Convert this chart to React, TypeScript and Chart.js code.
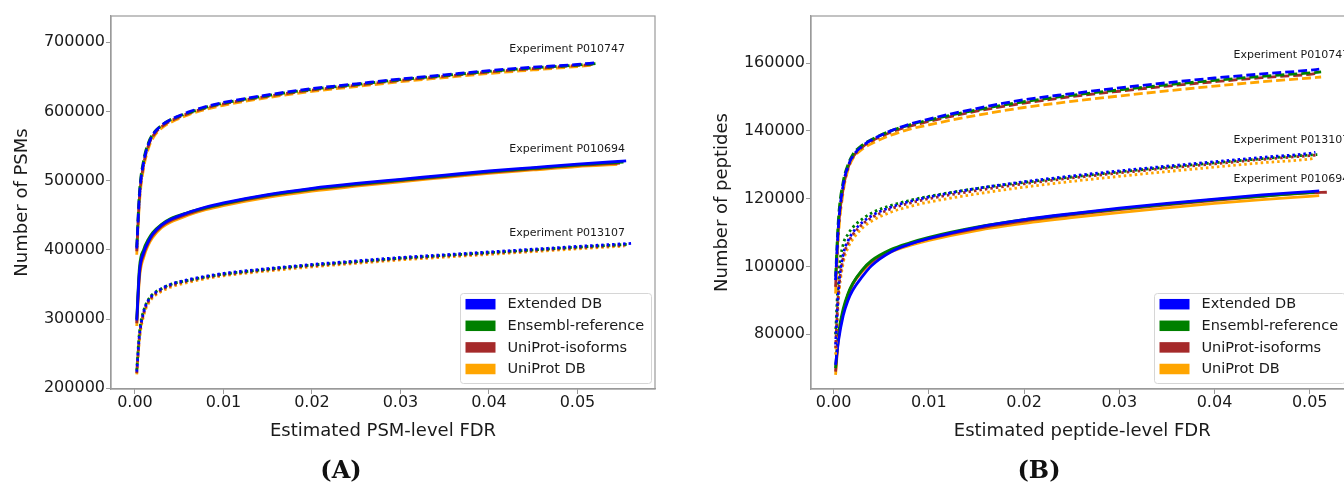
import React, { useEffect, useRef } from 'react';
import { Chart, registerables } from 'chart.js';

Chart.register(...registerables);

const FONT = "'DejaVu Sans', 'Noto Sans', sans-serif";

// ---------- shared ----------
const dbNames = ['Extended DB', 'Ensembl-reference', 'UniProt-isoforms', 'UniProt DB'];
const dbColors = ['#0000ff', '#008000', '#a52a2a', '#ffa500'];
const xTicks = [0, 0.01, 0.02, 0.03, 0.04, 0.05];
const fdrGrid = [0.0002, 0.0005, 0.001, 0.0015, 0.002, 0.003, 0.004, 0.006, 0.008, 0.01, 0.015, 0.02, 0.025, 0.03, 0.035, 0.04, 0.045, 0.05];

// ---------- Panel A: PSMs ----------
const yTicksA = [200000, 300000, 400000, 500000, 600000, 700000];

const a747Blue = [402000, 478000, 528000, 552000, 566000, 580000, 588000, 599000, 607000, 613000, 624000, 633000, 640000, 647000, 653000, 659000, 664000, 668000];
const a747Green = [404000, 482000, 531000, 554000, 567000, 580000, 588000, 598000, 606000, 612000, 623000, 632000, 639000, 646000, 652000, 658000, 663000, 667000];
const a747Brown = [398000, 474000, 525000, 550000, 564000, 578000, 586000, 597000, 605000, 611000, 622000, 631000, 638000, 645000, 651000, 657000, 662000, 666500];
const a747Orange = [393000, 468000, 520000, 546000, 561000, 576000, 584000, 595000, 603000, 609000, 620000, 629000, 636000, 643000, 649000, 655000, 660000, 665000];
const a747EndFdr = [0.052, 0.0522, 0.0517, 0.0515];
const a747EndVal = [670500, 669500, 668000, 666500];

const a694Blue = [298000, 368000, 397000, 412000, 423000, 436000, 444000, 454000, 462000, 468000, 480000, 489000, 496000, 502000, 508000, 514000, 519000, 524000];
const a694Green = [300000, 374000, 401000, 415000, 425000, 437000, 445000, 454000, 461000, 467000, 479000, 488000, 495000, 501000, 507000, 513000, 518000, 523000];
const a694Brown = [294000, 364000, 394000, 410000, 421000, 434000, 442000, 452000, 460000, 466000, 478000, 487000, 494000, 500000, 506000, 512000, 517000, 522000];
const a694Orange = [290000, 358000, 390000, 407000, 418000, 432000, 440000, 450000, 458000, 464000, 476000, 485000, 492000, 498500, 504500, 510500, 515500, 520500];
const a694EndFdr = [0.0555, 0.0552, 0.0548, 0.0545];
const a694EndVal = [528500, 527000, 525500, 523500];

const a107Blue = [224000, 276000, 311000, 327000, 335000, 344000, 350000, 357000, 362000, 366000, 373000, 379000, 384000, 389000, 393000, 397000, 401000, 405000];
const a107Green = [226000, 280000, 313000, 328000, 336000, 344000, 350000, 356000, 361000, 365000, 372000, 378000, 383000, 388000, 392000, 396000, 400000, 404000];
const a107Brown = [222000, 274000, 309000, 325000, 333000, 342000, 348000, 355000, 360000, 364000, 371000, 377000, 382000, 387000, 391000, 395000, 399000, 403000];
const a107Orange = [220000, 270000, 306000, 322000, 331000, 340000, 346000, 353000, 358500, 362500, 369500, 375500, 380500, 385500, 389500, 393500, 397500, 401500];
const a107EndFdr = [0.0562, 0.0557, 0.0555, 0.0553];
const a107EndVal = [409500, 408000, 407000, 405500];

const annotTextA = ['Experiment P010747', 'Experiment P010694', 'Experiment P013107'];
const annotFdrA = [0.0423, 0.0423, 0.0423];
const annotValA = [690300, 545800, 424400];

// ---------- Panel B: peptides ----------
const yTicksB = [80000, 100000, 120000, 140000, 160000];

const b747Blue = [96000, 112000, 124000, 129500, 132500, 135500, 137400, 140000, 142000, 143500, 146600, 149200, 151000, 152700, 154200, 155600, 156800, 157900];
const b747Green = [97000, 114000, 125000, 130000, 133000, 135800, 137500, 140000, 141800, 143200, 146200, 148600, 150500, 152100, 153600, 154900, 156100, 157100];
const b747Brown = [94000, 111000, 123000, 129000, 132200, 135200, 137000, 139600, 141400, 142800, 145800, 148200, 150100, 151700, 153200, 154500, 155700, 156700];
const b747Orange = [92000, 109000, 122000, 128500, 131800, 134600, 136300, 138700, 140500, 141800, 144600, 146900, 148700, 150300, 151800, 153200, 154500, 155600];
const b747EndFdr = [0.051, 0.0512, 0.0508, 0.0512];
const b747EndVal = [158200, 157400, 157000, 155900];

const b107Blue = [77000, 93000, 103500, 107500, 110000, 113000, 115000, 117500, 119200, 120500, 123000, 125000, 126700, 128200, 129600, 130900, 132200, 133400];
const b107Green = [80000, 97000, 106500, 109500, 111500, 114000, 115800, 118000, 119500, 120700, 123000, 124800, 126400, 127900, 129300, 130600, 131800, 132900];
const b107Brown = [76000, 92000, 102500, 106800, 109300, 112400, 114400, 117000, 118700, 120000, 122400, 124400, 126100, 127600, 129000, 130300, 131600, 132700];
const b107Orange = [74000, 90000, 101000, 105500, 108000, 111300, 113400, 116000, 117700, 119000, 121400, 123400, 125100, 126600, 128000, 129300, 130600, 131700];
const b107EndFdr = [0.0506, 0.0508, 0.0508, 0.0504];
const b107EndVal = [133700, 133000, 132900, 131900];

const b694Blue = [71000, 78000, 85500, 90000, 93000, 97000, 100300, 104300, 106600, 108300, 111500, 113800, 115600, 117200, 118600, 119900, 121100, 122100];
const b694Green = [70000, 80000, 87500, 92000, 95000, 99000, 101800, 105000, 107000, 108600, 111600, 113800, 115500, 117000, 118400, 119700, 120800, 121800];
const b694Brown = [69000, 79000, 86500, 91500, 94800, 98800, 101500, 104700, 106700, 108200, 111200, 113400, 115200, 116800, 118200, 119500, 120700, 121700];
const b694Orange = [68000, 78500, 86500, 91500, 94800, 98500, 101200, 104300, 106200, 107700, 110600, 112700, 114400, 115900, 117300, 118600, 119700, 120700];
const b694EndFdr = [0.051, 0.0505, 0.0518, 0.051];
const b694EndVal = [122300, 121900, 121900, 120900];

const annotTextB = ['Experiment P010747', 'Experiment P013107', 'Experiment P010694'];
const annotFdrB = [0.042, 0.042, 0.042];
const annotValB = [162240, 137375, 125870];

const DASHED = [9, 4];
const DOTTED = [2.5, 3];
const SOLID: number[] = [];

type Exp = { dash: number[]; values: number[][]; endFdr: number[]; endVal: number[] };

type Panel = {
  experiments: Exp[];
  yTicks: number[];
  xMin: number; xMax: number; yMin: number; yMax: number;
  xTitle: string; yTitle: string;
  yAxisWidth: number; padRight: number; yTitlePad: number;
  legendRight: number;
  annotText: string[]; annotFdr: number[]; annotVal: number[];
};

const panelA: Panel = {
  experiments: [
    { dash: DASHED, values: [a747Blue, a747Green, a747Brown, a747Orange], endFdr: a747EndFdr, endVal: a747EndVal },
    { dash: SOLID, values: [a694Blue, a694Green, a694Brown, a694Orange], endFdr: a694EndFdr, endVal: a694EndVal },
    { dash: DOTTED, values: [a107Blue, a107Green, a107Brown, a107Orange], endFdr: a107EndFdr, endVal: a107EndVal },
  ],
  yTicks: yTicksA,
  xMin: -0.00271, xMax: 0.05876, yMin: 198990, yMax: 737990,
  xTitle: 'Estimated PSM-level FDR', yTitle: 'Number of PSMs',
  yAxisWidth: 111, padRight: 25, yTitlePad: 11.2, legendRight: 4,
  annotText: annotTextA, annotFdr: annotFdrA, annotVal: annotValA,
};

const panelB: Panel = {
  experiments: [
    { dash: DASHED, values: [b747Blue, b747Green, b747Brown, b747Orange], endFdr: b747EndFdr, endVal: b747EndVal },
    { dash: DOTTED, values: [b107Blue, b107Green, b107Brown, b107Orange], endFdr: b107EndFdr, endVal: b107EndVal },
    { dash: SOLID, values: [b694Blue, b694Green, b694Brown, b694Orange], endFdr: b694EndFdr, endVal: b694EndVal },
  ],
  yTicks: yTicksB,
  xMin: -0.00238, xMax: 0.0546, yMin: 63864, yMax: 173894,
  xTitle: 'Estimated peptide-level FDR', yTitle: 'Number of peptides',
  yAxisWidth: 131, padRight: 26.5, yTitlePad: 31.2, legendRight: 8.5,
  annotText: annotTextB, annotFdr: annotFdrB, annotVal: annotValB,
};

function buildChart(canvas: HTMLCanvasElement, p: Panel) {
  const datasets: any[] = [];
  p.experiments.forEach((exp) => {
    exp.values.forEach((ys, k) => {
      const pts = fdrGrid.map((x, i) => ({ x, y: ys[i] }));
      pts.push({ x: exp.endFdr[k], y: exp.endVal[k] });
      datasets.push({
        label: dbNames[k],
        data: pts,
        borderColor: dbColors[k],
        backgroundColor: dbColors[k],
        borderWidth: 2.8,
        borderDash: exp.dash,
        pointRadius: 0,
        cubicInterpolationMode: 'monotone',
        fill: false,
      });
    });
  });

  const decor = {
    id: 'decor',
    afterDatasetsDraw(chart: any) {
      const { ctx, scales } = chart;
      ctx.save();
      ctx.font = `11px ${FONT}`;
      ctx.fillStyle = '#1a1a1a';
      ctx.textAlign = 'left';
      ctx.textBaseline = 'middle';
      p.annotText.forEach((t, i) => {
        ctx.fillText(t, scales.x.getPixelForValue(p.annotFdr[i]), scales.y.getPixelForValue(p.annotVal[i]));
      });
      ctx.restore();
    },
    afterDraw(chart: any) {
      const { ctx, chartArea: ca } = chart;
      ctx.save();
      // legend
      const bw = 191, bh = 90;
      const bx = ca.right - p.legendRight - bw;
      const by = ca.bottom - 6 - bh;
      ctx.beginPath();
      ctx.roundRect(bx + 0.5, by + 0.5, bw, bh, 3);
      ctx.fillStyle = 'rgba(255,255,255,0.85)';
      ctx.fill();
      ctx.strokeStyle = '#d6d6d6';
      ctx.lineWidth = 1;
      ctx.stroke();
      ctx.font = `14.5px ${FONT}`;
      ctx.textBaseline = 'middle';
      ctx.textAlign = 'left';
      dbNames.forEach((name, i) => {
        const y = by + 11.2 + i * 21.6;
        ctx.fillStyle = dbColors[i];
        ctx.fillRect(bx + 5.5, y - 5.25, 30, 10.5);
        ctx.fillStyle = '#1a1a1a';
        ctx.fillText(name, bx + 47.5, y + 0.5);
      });
      // frame
      ctx.strokeStyle = '#9a9a9a';
      ctx.lineWidth = 1.2;
      ctx.strokeRect(ca.left, ca.top, ca.right - ca.left, ca.bottom - ca.top);
      ctx.restore();
    },
  };

  return new Chart(canvas, {
    type: 'line',
    data: { datasets },
    plugins: [decor],
    options: {
      responsive: false,
      animation: false,
      devicePixelRatio: 1,
      layout: { padding: { left: 0, top: 16, right: p.padRight, bottom: 0 } },
      plugins: { legend: { display: false }, tooltip: { enabled: false } },
      scales: {
        x: {
          type: 'linear',
          min: p.xMin,
          max: p.xMax,
          afterFit: (s: any) => { s.height = 95; },
          afterBuildTicks: (s: any) => { s.ticks = xTicks.map((v) => ({ value: v })); },
          grid: { display: true, drawOnChartArea: false, drawTicks: true, tickLength: 5, color: '#9a9a9a' },
          border: { display: true, color: '#9a9a9a', width: 1.2 },
          ticks: {
            autoSkip: false, maxRotation: 0, padding: -1,
            color: '#1a1a1a', font: { family: FONT, size: 16 },
            callback: (v: any) => Number(v).toFixed(2),
          },
          title: {
            display: true, text: p.xTitle, color: '#1a1a1a',
            font: { family: FONT, size: 18 }, padding: { top: 0, bottom: 42 },
          },
        },
        y: {
          type: 'linear',
          min: p.yMin,
          max: p.yMax,
          afterFit: (s: any) => { s.width = p.yAxisWidth; },
          afterBuildTicks: (s: any) => { s.ticks = p.yTicks.map((v) => ({ value: v })); },
          grid: { display: true, drawOnChartArea: false, drawTicks: true, tickLength: 5, color: '#9a9a9a' },
          border: { display: true, color: '#9a9a9a', width: 1.2 },
          ticks: {
            autoSkip: false, padding: 1,
            color: '#1a1a1a', font: { family: FONT, size: 16 },
            callback: (v: any) => String(v),
          },
          title: {
            display: true, text: p.yTitle, color: '#1a1a1a',
            font: { family: FONT, size: 18 }, padding: { top: p.yTitlePad, bottom: 0 },
          },
        },
      },
    },
  } as any);
}

function ChartCanvas({ panel, left, width }: { panel: Panel; left: number; width: number }) {
  const ref = useRef<HTMLCanvasElement | null>(null);
  useEffect(() => {
    if (!ref.current) return;
    const chart = buildChart(ref.current, panel);
    return () => chart.destroy();
  }, [panel]);
  return (
    <canvas
      ref={ref}
      width={width}
      height={484}
      style={{ position: 'absolute', left, top: 0, width, height: 484 }}
    />
  );
}

const captionStyle: React.CSSProperties = {
  position: 'absolute',
  top: 454,
  width: 80,
  textAlign: 'center',
  fontFamily: "'DejaVu Serif', 'Liberation Serif', serif",
  fontSize: 24,
  lineHeight: '32px',
  color: '#111',
  fontWeight: 'bold',
};

export default function App() {
  return (
    <div style={{ position: 'absolute', left: 0, top: 0, width: 1344, height: 484, overflow: 'hidden', background: '#fff' }}>
      <ChartCanvas panel={panelA} left={0} width={680} />
      <ChartCanvas panel={panelB} left={680} width={700} />
      <div style={{ ...captionStyle, left: 301 }}>(A)</div>
      <div style={{ ...captionStyle, left: 999 }}>(B)</div>
    </div>
  );
}
